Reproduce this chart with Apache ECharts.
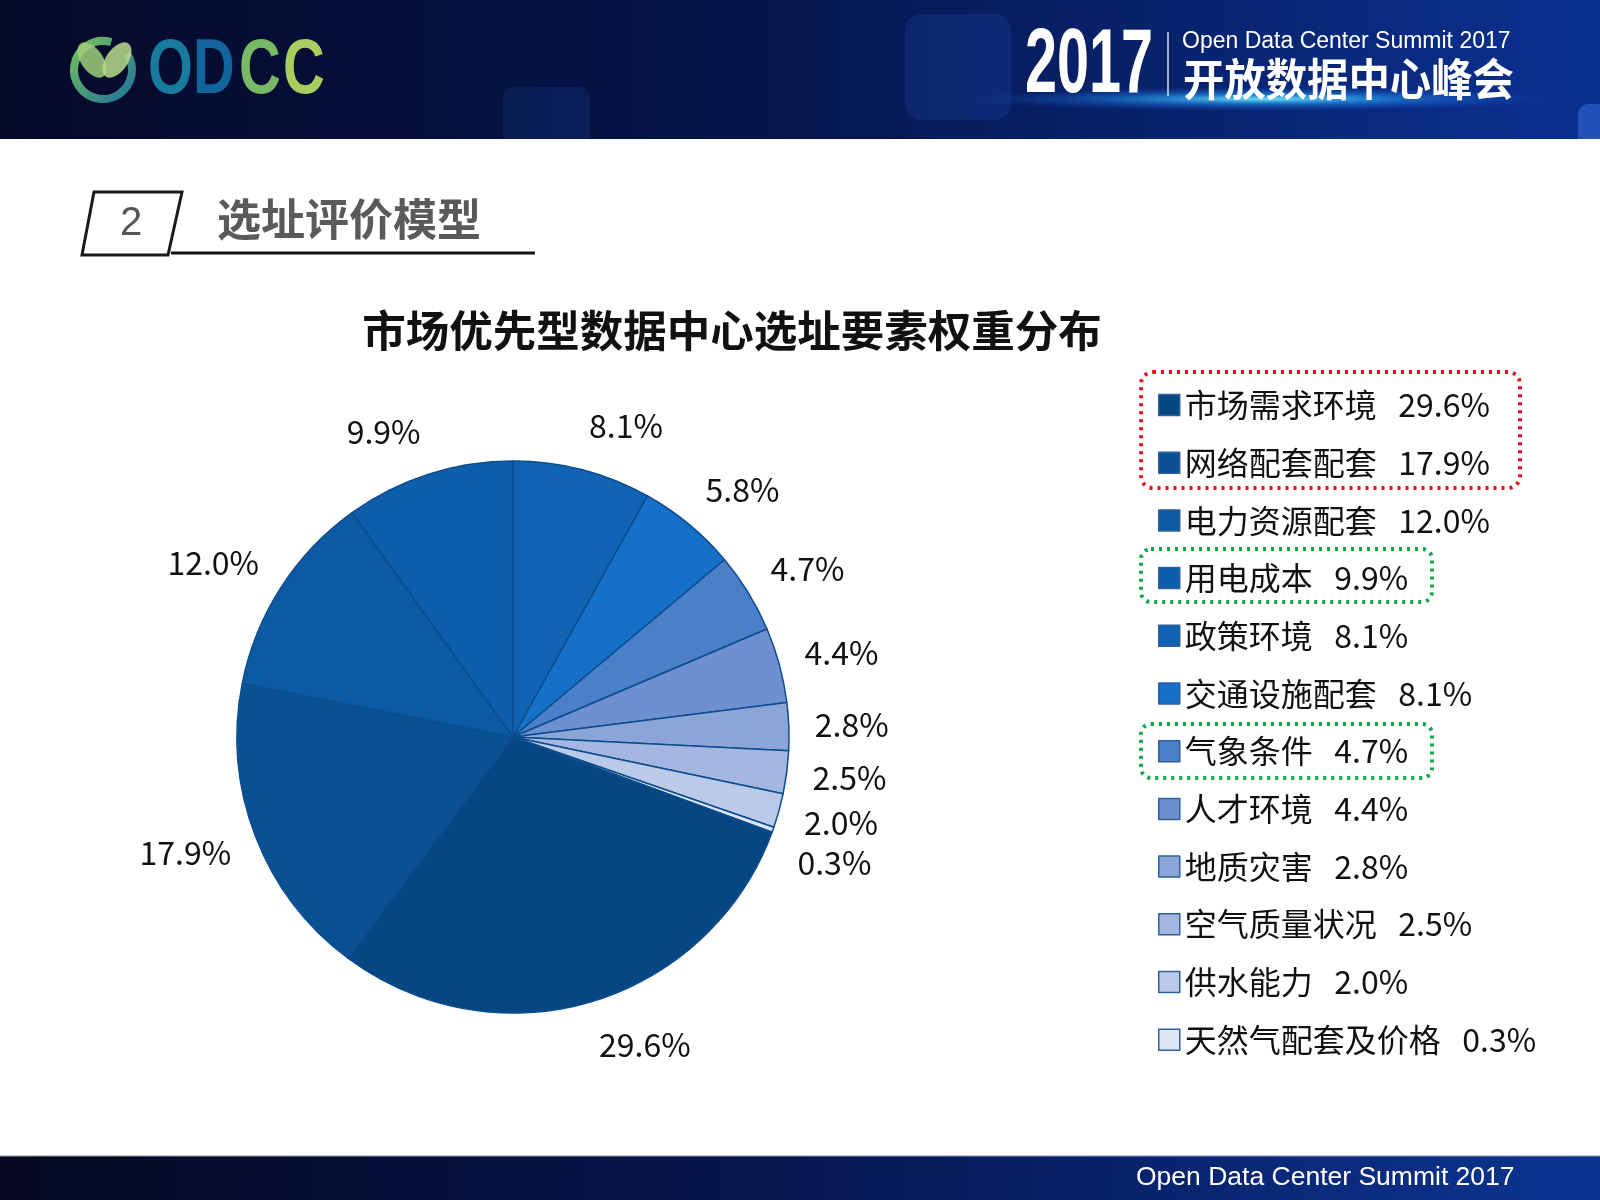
<!DOCTYPE html>
<html><head><meta charset="utf-8">
<script src="https://cdn.jsdelivr.net/npm/echarts@6/dist/echarts.min.js"></script>
<style>html,body{margin:0;padding:0;background:#fff}#c{width:1600px;height:1200px}</style>
</head><body><div id="c"></div>
<script>
const FONT = '"Noto Sans CJK SC","Noto Sans",sans-serif';
const LATIN = '"Liberation Sans",Arial,sans-serif';

// pie slices, clockwise from 12 o'clock
const sliceNames = ['政策环境','交通设施配套','气象条件','人才环境','地质灾害','空气质量状况','供水能力','天然气配套及价格','市场需求环境','网络配套配套','电力资源配套','用电成本'];
const sliceValues = [8.1, 5.8, 4.7, 4.4, 2.8, 2.5, 2.0, 0.3, 29.6, 17.9, 12.0, 9.9];
const sliceColors = ['#0f63b2','#1571c8','#4a7fca','#6f90d0','#8ba5d9','#a5b7e0','#bccae9','#dfe6f3','#064683','#0a5193','#0b5aa2','#0d5fab'];

// legend (as printed on the slide)
const legendNames = ['市场需求环境','网络配套配套','电力资源配套','用电成本','政策环境','交通设施配套','气象条件','人才环境','地质灾害','空气质量状况','供水能力','天然气配套及价格'];
const legendPct = ['29.6%','17.9%','12.0%','9.9%','8.1%','8.1%','4.7%','4.4%','2.8%','2.5%','2.0%','0.3%'];

const chartTitle = '市场优先型数据中心选址要素权重分布';
const sectionNo = '2';
const sectionTitle = '选址评价模型';

// ---- layout constants (styling, not data) ----
const CX = 513, CY = 737, R = 276;
const LABEL_SIZE = 32, LABEL_GAP = 26, LABEL_VOFF = 19, LABEL_STEP = 40;

const pieData = sliceNames.map((n, i) => ({ name: n, value: sliceValues[i] }));
const labelText = v => v.toFixed(1) + '%';

// Office-like "outside end" label placement derived from each slice's mid angle,
// with simple vertical de-overlap for neighbours on the same side.
function computeLabelLayout() {
  const ctx = document.createElement('canvas').getContext('2d');
  ctx.font = LABEL_SIZE + 'px ' + FONT;
  const total = sliceValues.reduce((a, b) => a + b, 0);
  let cum = 0;
  const out = sliceValues.map(v => {
    const mid = (cum + v / 2) / total * Math.PI * 2;
    cum += v;
    const w = ctx.measureText(labelText(v)).width;
    const s = Math.sin(mid), c = Math.cos(mid);
    const k = Math.max(-1, Math.min(1, s * 4));
    return {
      x: CX + (R + LABEL_GAP) * s + k * w / 2,
      y: CY - (R + LABEL_GAP) * c - c * LABEL_VOFF,
      side: s >= 0 ? 1 : -1
    };
  });
  let prev = null;
  out.forEach(p => {
    if (prev && prev.side === p.side) {
      if (p.side > 0 && p.y < prev.y + LABEL_STEP) p.y = prev.y + LABEL_STEP;
      else if (p.side < 0 && p.y > prev.y - LABEL_STEP) p.y = prev.y - LABEL_STEP;
    }
    prev = p;
  });
  return out;
}
const labelPos = computeLabelLayout();

const chart = echarts.init(document.getElementById('c'), null, { renderer: 'canvas' });

const headerGrad = new echarts.graphic.LinearGradient(0, 0, 1, 0, [
  { offset: 0, color: '#050a28' }, { offset: 0.45, color: '#051448' }, { offset: 1, color: '#0b3190' }
]);
const footerGrad = new echarts.graphic.LinearGradient(0, 0, 1, 0, [
  { offset: 0, color: '#060820' }, { offset: 0.5, color: '#061650' }, { offset: 1, color: '#0c3592' }
]);
const ringGrad = new echarts.graphic.LinearGradient(0, 0, 1, 1, [
  { offset: 0, color: '#7cc35a' }, { offset: 1, color: '#1a6f9c' }
]);
const glowGrad = new echarts.graphic.RadialGradient(0.5, 0.5, 0.5, [
  { offset: 0, color: 'rgba(120,235,255,0.95)' }, { offset: 0.4, color: 'rgba(40,170,255,0.55)' }, { offset: 1, color: 'rgba(20,80,220,0)' }
]);

const logoLetters = [
  { t: 'O', x: 148, c: '#177a9e' },
  { t: 'D', x: 193, c: '#12649c' },
  { t: 'C', x: 239, c: '#79b865' },
  { t: 'C', x: 283, c: '#a6cf5f' }
];

const graphic = [
  // header band
  { type: 'rect', shape: { x: 0, y: 0, width: 1600, height: 139 }, style: { fill: headerGrad }, z: 0 },
  { type: 'rect', shape: { x: 905, y: 14, width: 106, height: 106, r: 16 }, style: { fill: 'rgba(40,90,200,0.2)' }, z: 1 },
  { type: 'rect', shape: { x: 503, y: 87, width: 87, height: 52, r: [10, 10, 0, 0] }, style: { fill: 'rgba(40,90,200,0.16)' }, z: 1 },
  { type: 'rect', shape: { x: 1578, y: 104, width: 22, height: 35, r: [10, 0, 0, 0] }, style: { fill: 'rgba(60,120,230,0.45)' }, z: 1 },
  { type: 'circle', x: 1265, y: 99, scaleY: 0.04, shape: { cx: 0, cy: 0, r: 300 }, style: { fill: glowGrad }, z: 2 },
  // logo
  { type: 'arc', shape: { cx: 103, cy: 70, r: 29, startAngle: -0.6, endAngle: 5.0, clockwise: true }, style: { stroke: ringGrad, lineWidth: 8, fill: 'none' }, z: 3 },
  { type: 'circle', x: 92, y: 60, rotation: 0.6, scaleX: 0.55, shape: { cx: 0, cy: 0, r: 20 }, style: { fill: '#9fcf7a', opacity: 0.85 }, z: 3 },
  { type: 'circle', x: 117, y: 60, rotation: -0.6, scaleX: 0.55, shape: { cx: 0, cy: 0, r: 20 }, style: { fill: '#b9dc8c', opacity: 0.85 }, z: 3 }
].concat(logoLetters.map(l => ({
  type: 'text', x: l.x, y: 71, scaleX: 0.74,
  style: { text: l.t, fontSize: 78, fontWeight: 'bold', fontFamily: LATIN, fill: l.c, align: 'left', verticalAlign: 'middle', textAlign: 'left', textVerticalAlign: 'middle' }, z: 3
}))).concat([
  // header right
  { type: 'text', x: 1025, y: 67, scaleX: 0.64, style: { text: '2017', fontSize: 90, fontWeight: 'bold', fontFamily: LATIN, fill: '#ffffff', align: 'left', verticalAlign: 'middle', textAlign: 'left', textVerticalAlign: 'middle' }, z: 3 },
  { type: 'line', shape: { x1: 1168, y1: 32, x2: 1168, y2: 96 }, style: { stroke: 'rgba(255,255,255,0.85)', lineWidth: 1.5 }, z: 3 },
  { type: 'text', x: 1182, y: 42, style: { text: 'Open Data Center Summit 2017', fontSize: 23, fontFamily: LATIN, fill: '#ffffff', align: 'left', verticalAlign: 'middle', textAlign: 'left', textVerticalAlign: 'middle' }, z: 3 },
  { type: 'text', x: 1183, y: 79, scaleX: 0.94, style: { text: '开放数据中心峰会', fontSize: 44, fontWeight: 'bold', fontFamily: FONT, fill: '#ffffff', align: 'left', verticalAlign: 'middle', textAlign: 'left', textVerticalAlign: 'middle' }, z: 3 },
  // footer band
  { type: 'rect', shape: { x: 0, y: 1156, width: 1600, height: 44 }, style: { fill: footerGrad }, z: 0 },
  { type: 'line', shape: { x1: 0, y1: 1156, x2: 1600, y2: 1156 }, style: { stroke: '#8c98b0', lineWidth: 1 }, z: 1 },
  { type: 'text', x: 1136, y: 1178, style: { text: 'Open Data Center Summit 2017', fontSize: 26.5, fontFamily: LATIN, fill: '#ffffff', align: 'left', verticalAlign: 'middle', textAlign: 'left', textVerticalAlign: 'middle' }, z: 3 },
  // section heading
  { type: 'polygon', shape: { points: [[94, 192], [182, 192], [168, 255], [82, 255]] }, style: { fill: '#ffffff', stroke: '#1a1a1a', lineWidth: 3 }, z: 3 },
  { type: 'line', shape: { x1: 171, y1: 253, x2: 535, y2: 253 }, style: { stroke: '#111111', lineWidth: 3 }, z: 3 },
  { type: 'text', x: 131, y: 224, style: { text: sectionNo, fontSize: 40, fontFamily: LATIN, fill: '#555555', align: 'center', verticalAlign: 'middle', textAlign: 'center', textVerticalAlign: 'middle' }, z: 3 },
  { type: 'text', x: 217, y: 219, style: { text: sectionTitle, fontSize: 44, fontWeight: 'bold', fontFamily: FONT, fill: '#5a5a5a', align: 'left', verticalAlign: 'middle', textAlign: 'left', textVerticalAlign: 'middle' }, z: 3 },
  // dotted highlight boxes around legend rows
  { type: 'rect', shape: { x: 1141, y: 372, width: 379, height: 116, r: 12 }, style: { fill: 'none', stroke: '#e8141b', lineWidth: 4, lineDash: [3, 5] }, z: 5 },
  { type: 'rect', shape: { x: 1141, y: 549, width: 291, height: 53, r: 10 }, style: { fill: 'none', stroke: '#13a84b', lineWidth: 4, lineDash: [3, 5] }, z: 5 },
  { type: 'rect', shape: { x: 1141, y: 724, width: 291, height: 54, r: 10 }, style: { fill: 'none', stroke: '#13a84b', lineWidth: 4, lineDash: [3, 5] }, z: 5 }
]);

const option = {
  animation: false,
  backgroundColor: '#ffffff',
  title: {
    text: chartTitle, left: 732, top: 309, textAlign: 'center', padding: 0,
    textStyle: { fontSize: 43.5, fontWeight: 'bold', color: '#111111', fontFamily: FONT }
  },
  legend: {
    orient: 'vertical', left: 1158, top: 389, padding: 0,
    itemWidth: 21, itemHeight: 21, itemGap: 25.7, selectedMode: false, icon: 'rect',
    data: legendNames,
    itemStyle: { borderColor: '#2f5f9f', borderWidth: 1.5 },
    formatter: n => n + '   ' + legendPct[legendNames.indexOf(n)],
    textStyle: { fontSize: 32, lineHeight: 32, color: '#111111', fontFamily: FONT }
  },
  series: [
    {
      type: 'pie', center: [CX, CY], radius: R, startAngle: 90, clockwise: true,
      color: sliceColors, data: pieData, silent: true, avoidLabelOverlap: false,
      label: {
        show: true, position: 'outside', color: '#111111', fontSize: LABEL_SIZE, fontFamily: FONT,
        formatter: p => labelText(sliceValues[p.dataIndex])
      },
      labelLine: { show: false },
      labelLayout: p => ({ x: labelPos[p.dataIndex].x, y: labelPos[p.dataIndex].y, align: 'center', verticalAlign: 'middle' }),
      itemStyle: { borderColor: '#0c4d8e', borderWidth: 1.5 },
      emphasis: { disabled: true }
    }
  ],
  graphic: graphic
};
chart.setOption(option);
</script>
</body></html>
